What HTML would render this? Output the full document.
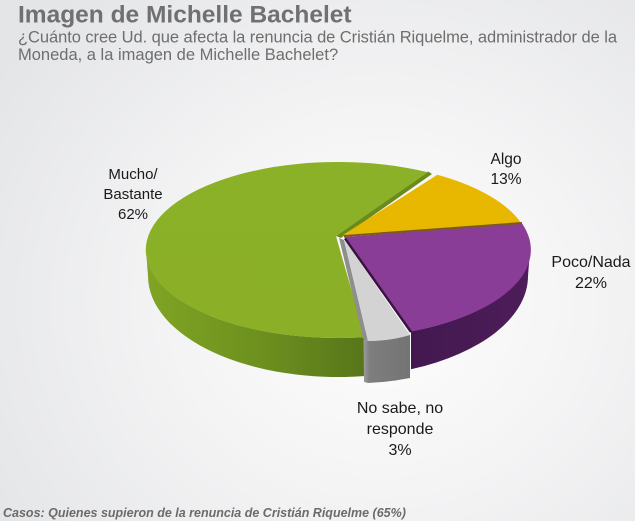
<!DOCTYPE html>
<html>
<head>
<meta charset="utf-8">
<style>
  html, body { margin:0; padding:0; }
  body {
    width:635px; height:521px; overflow:hidden;
    background: radial-gradient(ellipse 72% 80% at 60% 58%, #fefefe 0%, #f4f4f5 45%, #e4e5e7 100%);
    font-family: "Liberation Sans", Arial, sans-serif;
  }
  svg { display:block; }
</style>
</head>
<body>
<svg width="635" height="521" viewBox="0 0 635 521" xmlns="http://www.w3.org/2000/svg">
  <defs>
    <linearGradient id="gside" gradientUnits="userSpaceOnUse" x1="146" y1="0" x2="365" y2="0">
      <stop offset="0" stop-color="#80a424"/>
      <stop offset="0.5" stop-color="#6e911f"/>
      <stop offset="1" stop-color="#57761a"/>
    </linearGradient>
    <linearGradient id="pside" gradientUnits="userSpaceOnUse" x1="411" y1="0" x2="530" y2="0">
      <stop offset="0" stop-color="#431850"/>
      <stop offset="1" stop-color="#4d1d59"/>
    </linearGradient>
    <linearGradient id="gyfront" gradientUnits="userSpaceOnUse" x1="364" y1="0" x2="410" y2="0">
      <stop offset="0" stop-color="#9a9a9a"/>
      <stop offset="0.12" stop-color="#7e7e7e"/>
      <stop offset="1" stop-color="#747474"/>
    </linearGradient>
    <linearGradient id="gtop" gradientUnits="userSpaceOnUse" x1="0" y1="162" x2="0" y2="337">
      <stop offset="0" stop-color="#8ab127"/>
      <stop offset="1" stop-color="#8bb028"/>
    </linearGradient>
  </defs>

  <!-- Title -->
  <text x="18" y="22.7" font-family="Liberation Sans, Arial, sans-serif" font-size="24.5" font-weight="bold" fill="#707070">Imagen de Michelle Bachelet</text>
  <text x="18" y="42.7" font-family="Liberation Sans, Arial, sans-serif" font-size="16.5" fill="#6e6e6e" textLength="599" lengthAdjust="spacing">¿Cuánto cree Ud. que afecta la renuncia de Cristián Riquelme, administrador de la</text>
  <text x="18" y="60" font-family="Liberation Sans, Arial, sans-serif" font-size="16.5" fill="#6e6e6e">Moneda, a la imagen de Michelle Bachelet?</text>

  <!-- Green side -->
  <path d="M146 250 A192 88 0 0 0 365 337.1 L365 376 A190 101 0 0 1 148 276 Z" fill="url(#gside)"/>
  <!-- Purple side -->
  <path d="M530 250 A192 88 0 0 1 411 331.4 L411 369.3 A190 101 0 0 0 528 276 Z" fill="url(#pside)"/>

  <!-- Green cut face toward yellow -->
  <polygon points="336,236 428,171.5 432,174 341,238" fill="#6b8a1c"/>
  <!-- Green top -->
  <path d="M336 236 L428 172.3 A192 88 0 1 0 365 337.1 Z" fill="url(#gtop)"/>

  <!-- Yellow top -->
  <path d="M343 235 L437.3 174.7 A192 88 0 0 1 521.5 223.4 Z" fill="#e8b700"/>

  <!-- Purple top -->
  <path d="M344 237 L522 223.4 A192 88 0 0 1 411 331.4 Z" fill="#8a3d97"/>
  <line x1="344" y1="236" x2="522" y2="223" stroke="#7a5a1c" stroke-width="2"/>
  <line x1="345" y1="238.5" x2="411" y2="332" stroke="#3b1343" stroke-width="2.5"/>

  <!-- Gray slice -->
  <polygon points="339,238 344,240 368,341 363.5,340" fill="#8e8e8e"/>
  <path d="M344 239 L368 341 Q390 341 410 335 Z" fill="#d3d3d3"/>
  <path d="M363.5 340 L368 341 Q390 341 410 335 L410 378 Q390 382 368 383 L364 382 Z" fill="url(#gyfront)"/>

  <!-- Labels -->
  <g font-family="Liberation Sans, Arial, sans-serif" fill="#1a1a1a" text-anchor="middle">
    <text x="133" y="179" font-size="15">Mucho/</text>
    <text x="133" y="199" font-size="15">Bastante</text>
    <text x="133" y="219" font-size="15">62%</text>

    <text x="506" y="164" font-size="15.5">Algo</text>
    <text x="506" y="184" font-size="15.5">13%</text>

    <text x="591" y="267" font-size="16">Poco/Nada</text>
    <text x="591" y="288" font-size="16">22%</text>

    <text x="400" y="413" font-size="16">No sabe, no</text>
    <text x="400" y="434" font-size="16">responde</text>
    <text x="400" y="455" font-size="16">3%</text>
  </g>

  <!-- Footer -->
  <text x="3" y="517" font-family="Liberation Sans, Arial, sans-serif" font-size="12.5" font-weight="bold" font-style="italic" fill="#6b6b6b">Casos: Quienes supieron de la renuncia de Cristián Riquelme (65%)</text>
</svg>
</body>
</html>
